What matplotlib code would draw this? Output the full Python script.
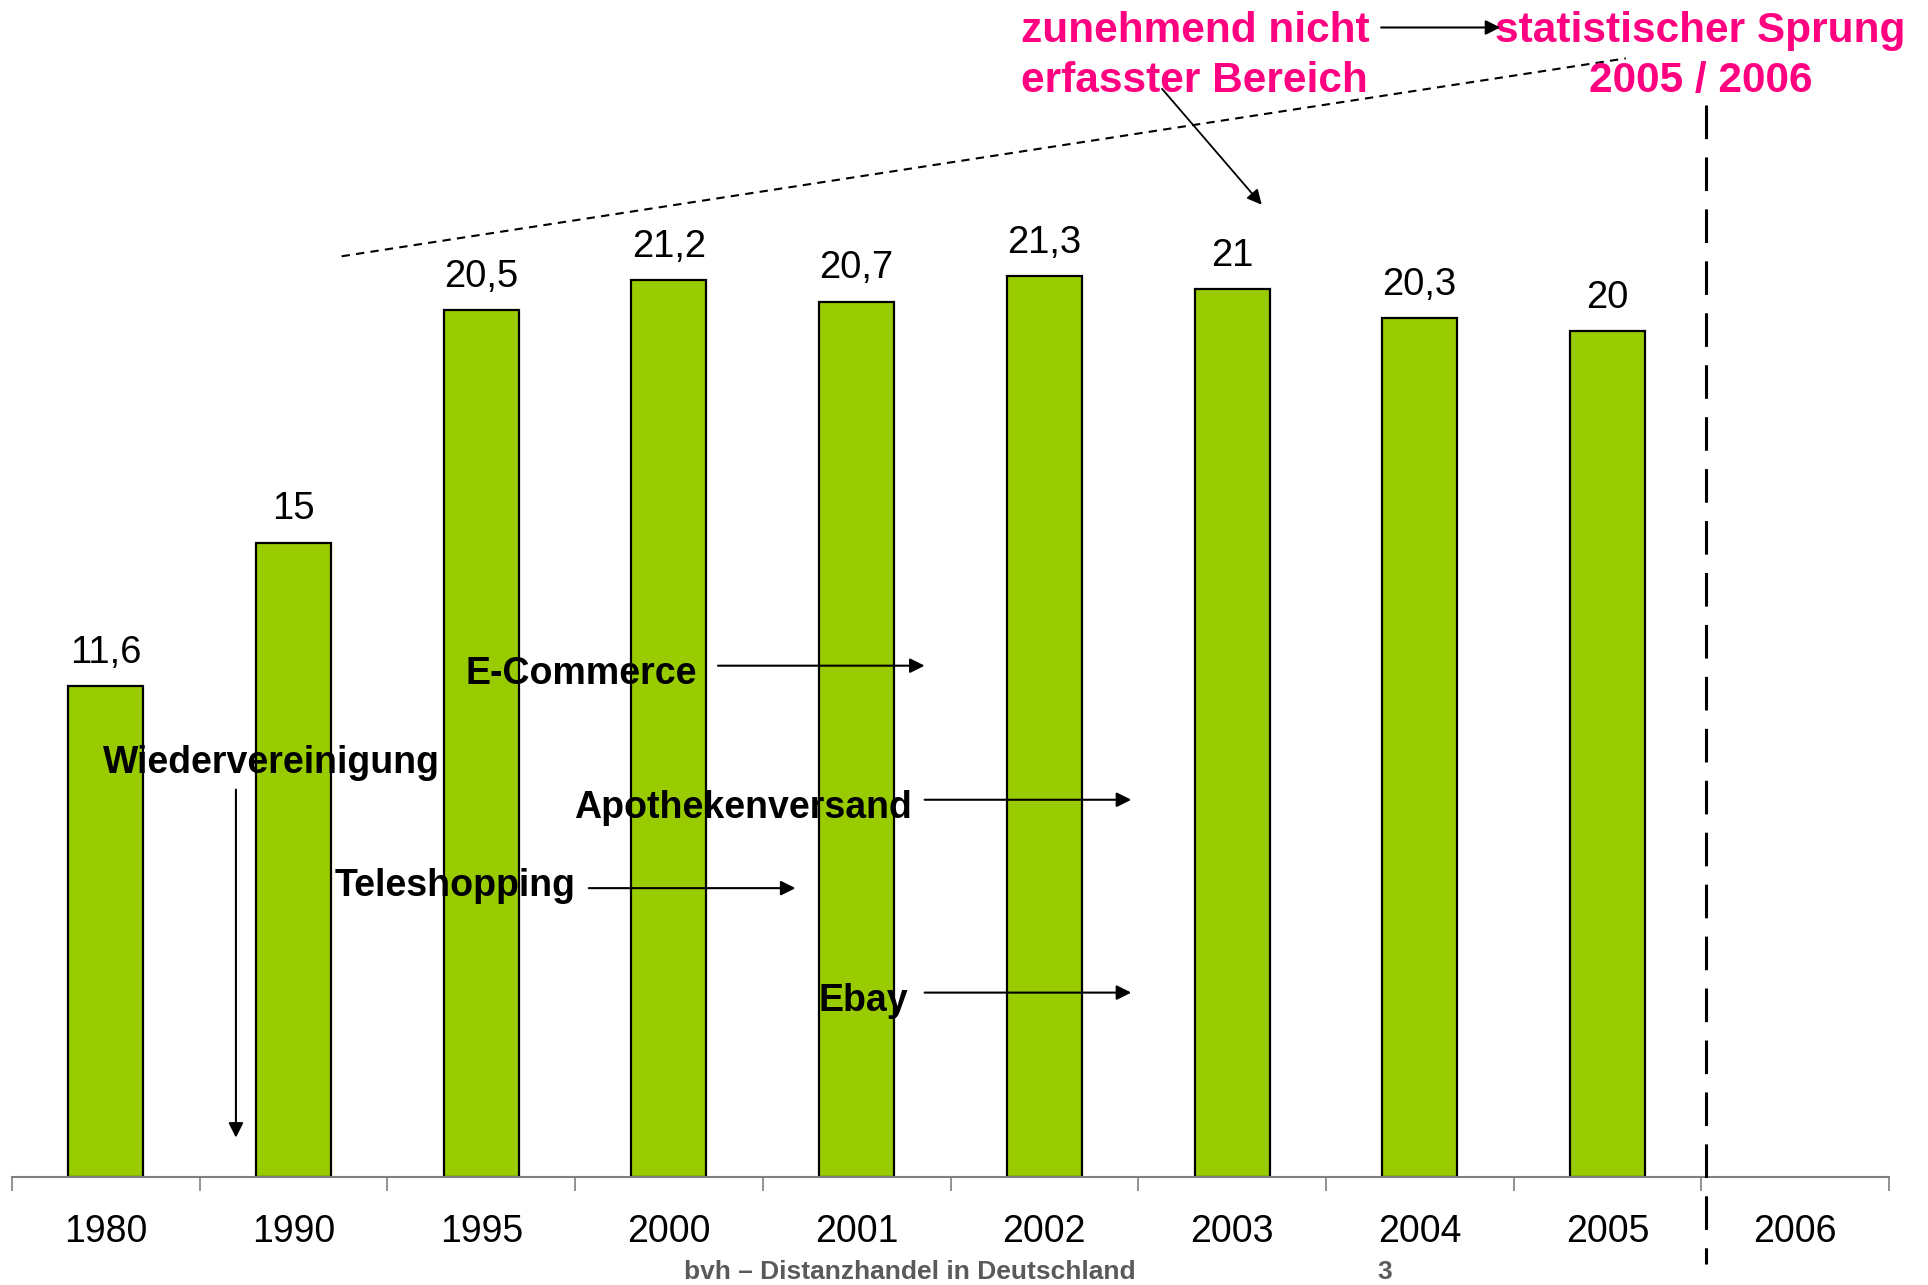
import matplotlib
matplotlib.use("Agg")
import matplotlib.pyplot as plt

plt.rcParams['font.family'] = ['Liberation Sans', 'DejaVu Sans']

# ---- data ----
categories = ["1980", "1990", "1995", "2000", "2001", "2002", "2003", "2004", "2005", "2006"]
values = [11.6, 15, 20.5, 21.2, 20.7, 21.3, 21, 20.3, 20]
value_labels = ["11,6", "15", "20,5", "21,2", "20,7", "21,3", "21", "20,3", "20"]

GREEN = "#99CC00"
PINK = "#FF0080"

W, H = 1928, 1285
fig = plt.figure(figsize=(W / 100, H / 100), dpi=100)
ax = fig.add_axes([12 / W, 108 / H, (1889 - 12) / W, (H - 108) / H])
ax.set_xlim(-0.5, len(categories) - 0.5)
ax.set_ylim(0, 27.83)

x = list(range(len(values)))
bars = ax.bar(x, values, width=0.4, color=GREEN, edgecolor="black", linewidth=1.6, zorder=2)
ax.bar_label(bars, labels=value_labels, padding=11, fontsize=27.5)

for s in ["top", "left", "right"]:
    ax.spines[s].set_visible(False)
ax.spines["bottom"].set_color("#808080")
ax.spines["bottom"].set_linewidth(1.5)
ax.set_yticks([])
ax.set_xticks(range(len(categories)))
ax.set_xticklabels(categories, fontsize=27)
ax.tick_params(axis="x", which="major", length=0, pad=27)
ax.set_xticks([i - 0.5 for i in range(len(categories) + 1)], minor=True)
ax.tick_params(axis="x", which="minor", length=10, width=1.2, color="#808080", direction="out")

ann_kw = dict(fontsize=27, fontweight="bold", va="center", ha="left", zorder=5)
arrow = dict(arrowstyle="-|>", color="black", lw=1.5, mutation_scale=22, shrinkA=0, shrinkB=0)
dy = -0.08

# Wiedervereinigung
ax.text(-0.015, 9.88 + dy, "Wiedervereinigung", **ann_kw)
ax.annotate("", xy=(0.693, 0.93), xytext=(0.693, 9.16), arrowprops=arrow, zorder=5)
# E-Commerce
ax.text(1.918, 11.98 + dy, "E-Commerce", **ann_kw)
ax.annotate("", xy=(4.362, 12.09), xytext=(3.261, 12.09), arrowprops=arrow, zorder=5)
# Apothekenversand
ax.text(2.495, 8.81 + dy, "Apothekenversand", **ann_kw)
ax.annotate("", xy=(5.463, 8.92), xytext=(4.362, 8.92), arrowprops=arrow, zorder=5)
# Teleshopping
ax.text(1.217, 6.95 + dy, "Teleshopping", **ann_kw)
ax.annotate("", xy=(3.674, 6.83), xytext=(2.573, 6.83), arrowprops=arrow, zorder=5)
# Ebay
ax.text(3.799, 4.24 + dy, "Ebay", **ann_kw)
ax.annotate("", xy=(5.463, 4.36), xytext=(4.362, 4.36), arrowprops=arrow, zorder=5)

# Pink annotations
pink_kw = dict(fontsize=30.5, fontweight="bold", color=PINK, va="center", clip_on=False, zorder=5)
ax.text(4.874, 27.18 + dy, "zunehmend nicht", ha="left", **pink_kw)
ax.text(4.874, 25.99 + dy, "erfasster Bereich", ha="left", **pink_kw)
ax.text(7.403, 27.18 + dy, "statistischer Sprung", ha="left", **pink_kw)
ax.text(8.497, 25.99 + dy, "2005 / 2006", ha="center", **pink_kw)
ax.annotate("", xy=(7.429, 27.18), xytext=(6.794, 27.18), arrowprops=arrow, zorder=5)
ax.annotate("", xy=(6.158, 22.99), xytext=(5.627, 25.73),
            arrowprops=dict(arrowstyle="-|>", color="black", lw=1.3, mutation_scale=22,
                            shrinkA=0, shrinkB=0), zorder=5)

# dotted trend line
ax.plot([1.256, 8.098], [21.77, 26.45], color="black", lw=1.5, linestyle=(0, (4, 3)), zorder=4)

# dashed vertical separator
ax.plot([8.524, 8.524], [25.35, -2.06], color="black", lw=2.2, linestyle=(0, (11, 6)),
        clip_on=False, zorder=4)

# footer
fig.text(684 / W, 1 - 1272 / H, "bvh \u2013 Distanzhandel in Deutschland", fontsize=19,
         fontweight="bold", color="#5a5a5a", ha="left", va="center")
fig.text(1377 / W, 1 - 1272 / H, "3", fontsize=19, fontweight="bold", color="#5a5a5a",
         ha="left", va="center")

fig.savefig("out.png", dpi=100)
